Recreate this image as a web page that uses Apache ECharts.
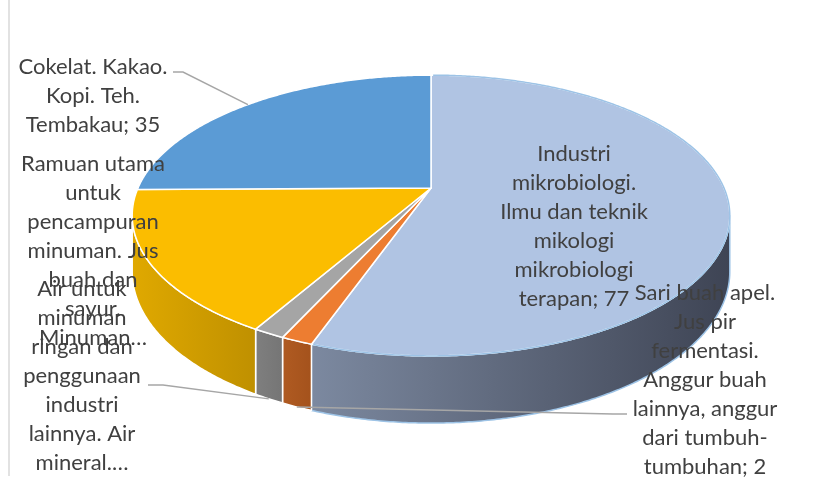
<!DOCTYPE html>
<html><head><meta charset="utf-8">
<script src="https://cdn.jsdelivr.net/npm/echarts@6/dist/echarts.min.js"></script>
<style>html,body{margin:0;padding:0;background:#fff}#c{width:838px;height:482px}</style>
</head><body><div id="c"></div>
<script>
// ---- data ----
const categories = [
  'Industri mikrobiologi. Ilmu dan teknik mikologi mikrobiologi terapan',
  'Sari buah apel. Jus pir fermentasi. Anggur buah lainnya, anggur dari tumbuh-tumbuhan',
  'Air untuk minuman ringan dan penggunaan industri lainnya. Air mineral.…',
  'Ramuan utama untuk pencampuran minuman. Jus buah dan sayur. Minuman…',
  'Cokelat. Kakao. Kopi. Teh. Tembakau'
];
const values = [77, 2, 2, 23, 35];
const labelNames = [
  'Industri\nmikrobiologi.\nIlmu dan teknik\nmikologi\nmikrobiologi\nterapan',
  'Sari buah apel.\nJus pir\nfermentasi.\nAnggur buah\nlainnya, anggur\ndari tumbuh-\ntumbuhan',
  'Air untuk\nminuman\nringan dan\npenggunaan\nindustri\nlainnya. Air\nmineral.…',
  'Ramuan utama\nuntuk\npencampuran\nminuman. Jus\nbuah dan\nsayur.\nMinuman…',
  'Cokelat. Kakao.\nKopi. Teh.\nTembakau'
];
const showValue = [true, true, false, false, true];

// ---- style / layout ----
const topColors = ['#b0c4e3', '#ed7d31', '#a5a5a5', '#fbbd00', '#5b9bd5'];
const wallColors = [['#7c89a0', '#3e4454'], ['#b05b22', '#a4521c'], ['#7f7f7f', '#757575'], ['#e0a900', '#bf9000'], ['#4a7fb0', '#3d6a95']];
const labelPos = [[574, 139], [705, 278], [82, 274], [93, 149], [93, 52]];
const leaderFrom = [null, [[627, 414], [613, 414]], [[148, 385], [163, 385]], null, [[173, 72], [183, 72]]];
const leaderAnchor = [null, 'bottom', 'bottom', null, 'top'];
const P = { cx: 431, cy: 188, A: 293, B: 135, k: 0.196, D: 54 };

const total = values.reduce((s, v) => s + v, 0);
const starts = [];
values.reduce((acc, v, i) => { starts[i] = acc; return acc + v / total * 360; }, 0);
const thL = Math.acos(-P.k) * 180 / Math.PI;
const thR = 360 - thL;

function proj(theta, drop) {
  const t = theta * Math.PI / 180;
  const u = Math.sin(t), v = -Math.cos(t);
  const w = 1 - P.k * v;
  return [P.cx + P.A * u / w, P.cy + P.B * v / w + (drop ? drop * P.D / w : 0)];
}
function arc(a, b, drop) {
  const pts = [];
  const n = Math.max(2, Math.ceil(Math.abs(b - a) / 0.5));
  for (let j = 0; j <= n; j++) pts.push(proj(a + (b - a) * j / n, drop));
  return pts;
}

function renderItem(params, api) {
  const i = params.dataIndex;
  const a0 = starts[i];
  const a1 = a0 + api.value(0) / total * 360;
  const children = [];
  const wa = Math.max(a0, thL), wb = Math.min(a1, thR);
  if (wb > wa) {
    const pts = arc(wa, wb, 0).concat(arc(wb, wa, 1));
    children.push({
      type: 'polygon', z2: 1, shape: { points: pts },
      style: {
        fill: { type: 'linear', x: 0, y: 0, x2: 1, y2: 0, colorStops: [{ offset: 0, color: wallColors[i][0] }, { offset: 1, color: wallColors[i][1] }] },
        stroke: i === 0 ? '#9dc3e6' : '#ffffff', lineWidth: 1.5, lineJoin: 'round'
      }
    });
  }
  const tp = [[P.cx, P.cy]].concat(arc(a0, a1, 0));
  children.push({
    type: 'polygon', z2: 2, shape: { points: tp },
    style: { fill: topColors[i], stroke: '#ffffff', lineWidth: 1.5, lineJoin: 'round' }
  });
  if (i === 0) {
    children.push({ type: 'polyline', z2: 3, shape: { points: arc(a0 + 0.5, a1 - 0.3, 0) }, style: { stroke: '#9dc3e6', lineWidth: 1.5, fill: null } });
  }
  if (leaderFrom[i]) {
    const mid = (a0 + a1) / 2;
    const end = proj(mid, leaderAnchor[i] === 'bottom' ? 1 : 0);
    children.push({ type: 'polyline', z2: 5, shape: { points: leaderFrom[i].concat([end]) }, style: { stroke: '#a6a6a6', lineWidth: 1.4, fill: null } });
  }
  children.push({
    type: 'text', z2: 10,
    style: {
      text: labelNames[i] + (showValue[i] ? '; ' + api.value(0) : ''),
      x: labelPos[i][0], y: labelPos[i][1],
      align: 'center', verticalAlign: 'top',
      fontFamily: 'Lato', fontSize: 22, lineHeight: 29, fill: '#404040'
    }
  });
  return { type: 'group', children };
}

const chart = echarts.init(document.getElementById('c'), null, { renderer: 'canvas' });
chart.setOption({
  backgroundColor: '#ffffff',
  animation: false,
  graphic: [{ type: 'line', shape: { x1: 9, y1: 0, x2: 9, y2: 476 }, style: { stroke: '#d9d9d9', lineWidth: 1.5 } }],
  series: [{
    type: 'custom', coordinateSystem: 'none', renderItem,
    data: values.map((v, i) => ({ name: categories[i], value: [v] }))
  }]
});
</script></body></html>
